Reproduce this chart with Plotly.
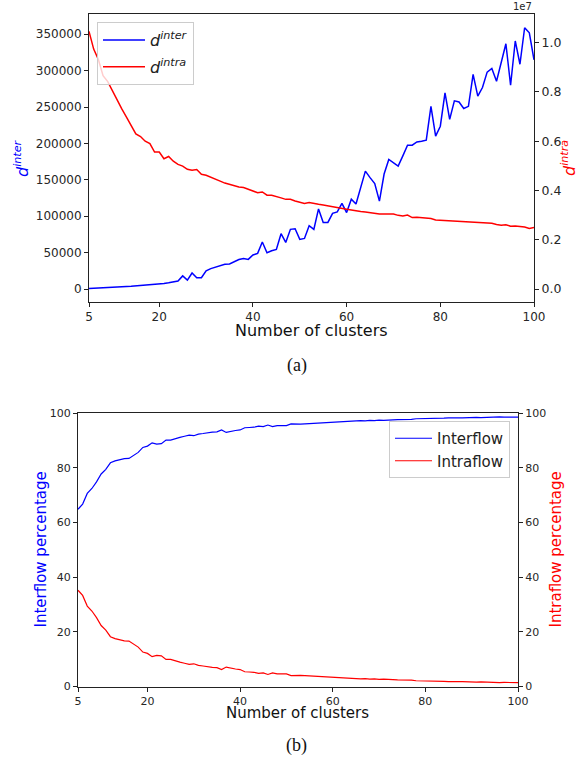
import plotly.graph_objects as go

W, H = 587, 762

# ---------------- data ----------------
clusters = list(range(5, 101))

d_inter = [800, 1000, 1300, 1600, 1900, 2200, 2500, 2900, 3300, 3700,
           4100, 4600, 5100, 5600, 5900, 6800, 7500, 8500, 9800, 11000,
           18000, 12300, 22000, 15500, 15500, 25000, 28000, 30000, 32000, 34000,
           34500, 38000, 40500, 42000, 40700, 46700, 49000, 64500, 49900, 52500,
           54500, 76000, 64000, 82000, 82800, 68200, 69500, 87000, 82000, 110000,
           91500, 91500, 104000, 106000, 117600, 105000, 123500, 116700, 138000, 162000,
           153000, 145000, 120800, 158000, 178000, 174000, 169000, 183000, 197600, 197600,
           202000, 203000, 204500, 251000, 210000, 223700, 269400, 233000, 258500, 257000,
           248000, 251000, 295000, 265000, 276800, 298000, 303000, 285500, 312000, 337000,
           280000, 340800, 308800, 359000, 352000, 315000]

d_intra_e6 = [10.46, 9.74, 9.32, 8.66, 8.42, 8.03, 7.65, 7.31, 6.98, 6.64,
              6.30, 6.19, 6.00, 5.90, 5.56, 5.56, 5.29, 5.38, 5.19, 5.06,
              4.99, 4.86, 4.82, 4.85, 4.66, 4.62, 4.55, 4.45, 4.38, 4.30,
              4.24, 4.18, 4.14, 4.12, 4.05, 4.00, 3.91, 3.94, 3.81, 3.81,
              3.74, 3.70, 3.64, 3.64, 3.57, 3.51, 3.47, 3.51, 3.46, 3.44,
              3.41, 3.37, 3.33, 3.29, 3.27, 3.24, 3.21, 3.17, 3.15, 3.13,
              3.10, 3.06, 3.05, 3.04, 3.04, 3.04, 2.99, 2.96, 3.00, 2.90,
              2.91, 2.89, 2.86, 2.86, 2.80, 2.79, 2.79, 2.78, 2.76, 2.76,
              2.74, 2.72, 2.70, 2.69, 2.68, 2.67, 2.67, 2.62, 2.59, 2.61,
              2.55, 2.56, 2.54, 2.52, 2.46, 2.50]
d_intra = [v * 1e6 for v in d_intra_e6]

interflow = [64.8, 66.7, 70.6, 72.4, 74.8, 77.7, 79.4, 81.8, 82.5, 83.0,
             83.3, 83.4, 84.6, 85.6, 87.4, 87.9, 89.1, 88.6, 88.8, 90.1,
             90.1, 90.7, 91.1, 91.5, 91.9, 91.7, 92.3, 92.5, 92.8, 93.0,
             93.1, 93.8, 92.9, 93.3, 93.6, 93.8, 94.6, 94.7, 94.8, 95.2,
             95.0, 95.6, 95.0, 95.4, 95.5, 95.4, 96.0, 95.9, 95.9, 96.0,
             96.1, 96.2, 96.4, 96.4, 96.6, 96.6, 96.8, 96.7, 96.9, 97.0,
             97.1, 97.2, 97.1, 97.3, 97.2, 97.4, 97.3, 97.5, 97.5, 97.6,
             97.6, 97.8, 97.7, 97.9, 97.9, 98.0, 98.1, 98.0, 98.1, 98.1,
             98.2, 98.1, 98.2, 98.2, 98.3, 98.3, 98.4, 98.3, 98.4, 98.5,
             98.4, 98.6, 98.5, 98.6, 98.5, 98.5]

intraflow = [35.2, 33.3, 29.4, 27.6, 25.2, 22.3, 20.6, 18.2, 17.5, 17.0,
             16.7, 16.6, 15.4, 14.4, 12.6, 12.1, 10.9, 11.4, 11.2, 9.9,
             9.9, 9.3, 8.9, 8.5, 8.1, 8.3, 7.7, 7.5, 7.2, 7.0,
             6.9, 6.2, 7.1, 6.7, 6.4, 6.2, 5.4, 5.3, 5.2, 4.8,
             5.0, 4.4, 5.0, 4.6, 4.5, 4.6, 4.0, 4.1, 4.1, 4.0,
             3.9, 3.8, 3.6, 3.6, 3.4, 3.4, 3.2, 3.3, 3.1, 3.0,
             2.9, 2.8, 2.9, 2.7, 2.8, 2.6, 2.7, 2.5, 2.5, 2.4,
             2.4, 2.2, 2.3, 2.1, 2.1, 2.0, 1.9, 2.0, 1.9, 1.9,
             1.8, 1.9, 1.8, 1.8, 1.7, 1.7, 1.6, 1.7, 1.6, 1.5,
             1.6, 1.4, 1.5, 1.4, 1.5, 1.4]

x_ticks = [5, 20, 40, 60, 80, 100]
left_a_ticks = [0, 50000, 100000, 150000, 200000, 250000, 300000, 350000]
right_a_ticks = [0, 2e6, 4e6, 6e6, 8e6, 1e7]
right_a_labels = ["0.0", "0.2", "0.4", "0.6", "0.8", "1.0"]
pct_ticks = [0, 20, 40, 60, 80, 100]

# ---------------- layout helpers (window pixels -> paper) ----------------
def px_x(p):
    return p / W

def px_y(p):
    return 1 - p / H

FONT = "DejaVu Sans"
TICKC = "#262626"
BLUE = "#0000ff"
RED = "#ff0000"

fig = go.Figure()

fig.add_trace(go.Scatter(x=clusters, y=d_inter, mode="lines", name="<i>d</i><sup><i>inter</i></sup>",
                         line=dict(color=BLUE, width=1.5), xaxis="x", yaxis="y",
                         legend="legend", legendgroup="a1"))
fig.add_trace(go.Scatter(x=clusters, y=d_intra, mode="lines", name="<i>d</i><sup><i>intra</i></sup>",
                         line=dict(color=RED, width=1.5), xaxis="x", yaxis="y2",
                         legend="legend", legendgroup="a2"))
fig.add_trace(go.Scatter(x=clusters, y=interflow, mode="lines", name="Interflow",
                         line=dict(color=BLUE, width=1.2), xaxis="x2", yaxis="y3",
                         legend="legend2"))
fig.add_trace(go.Scatter(x=clusters, y=intraflow, mode="lines", name="Intraflow",
                         line=dict(color=RED, width=1.2), xaxis="x2", yaxis="y4",
                         legend="legend2"))

axis_common = dict(showline=True, linecolor="#222", linewidth=1, ticks="outside", ticklen=4,
                   tickwidth=1, tickcolor="#222", showgrid=False, zeroline=False,
                   automargin=False)

dom_a_x = [px_x(89), px_x(534)]
dom_a_y = [px_y(301.7), px_y(14)]
dom_b_x = [px_x(78), px_x(518)]
dom_b_y = [px_y(686.5), px_y(413)]

fig.update_layout(
    width=W, height=H,
    margin=dict(l=0, r=0, t=0, b=0, autoexpand=False),
    paper_bgcolor="white", plot_bgcolor="white",
    font=dict(family=FONT, color=TICKC),
    xaxis=dict(domain=dom_a_x, anchor="y", range=[5, 100], tickvals=x_ticks,
               ticktext=[str(v) for v in x_ticks], mirror=True,
               tickfont=dict(size=12), **axis_common),
    yaxis=dict(domain=dom_a_y, anchor="x", range=[-17430, 377860], tickvals=left_a_ticks,
               ticktext=[str(v) for v in left_a_ticks], tickfont=dict(size=12), **axis_common),
    yaxis2=dict(overlaying="y", anchor="x", side="right", range=[-515600, 11165000],
                tickvals=right_a_ticks, ticktext=right_a_labels, tickfont=dict(size=12.5),
                **axis_common),
    xaxis2=dict(domain=dom_b_x, anchor="y3", range=[5, 100], tickvals=x_ticks,
                ticktext=[str(v) for v in x_ticks], mirror=True,
                tickfont=dict(size=11), **axis_common),
    yaxis3=dict(domain=dom_b_y, anchor="x2", range=[0, 100], tickvals=pct_ticks,
                ticktext=[str(v) for v in pct_ticks], tickfont=dict(size=11), **axis_common),
    yaxis4=dict(overlaying="y3", anchor="x2", side="right", range=[0, 100], tickvals=pct_ticks,
                ticktext=[str(v) for v in pct_ticks], tickfont=dict(size=11), **axis_common),
    legend=dict(x=px_x(97), y=px_y(22), xanchor="left", yanchor="top",
                bgcolor="rgba(255,255,255,0.8)", bordercolor="#cccccc", borderwidth=1,
                itemwidth=42, tracegroupgap=3,
                font=dict(size=16, family=FONT, color="#222")),
    legend2=dict(x=px_x(389), y=px_y(421), xanchor="left", yanchor="top",
                 bgcolor="rgba(255,255,255,0.8)", bordercolor="#cccccc", borderwidth=1,
                 itemwidth=37,
                 font=dict(size=15, family=FONT, color="#222")),
    showlegend=True,
)

def label(text, x, y, size, color, family=FONT, angle=0, xa="center", ya="middle"):
    return dict(text=text, x=px_x(x), y=px_y(y), xref="paper", yref="paper",
                xanchor=xa, yanchor=ya, showarrow=False, textangle=angle,
                font=dict(size=size, family=family, color=color))

annotations = [
    # (a)
    label("Number of clusters", 311, 330, 16, "#111"),
    label("<i>d</i><sup><i>inter</i></sup>", 21, 158, 16, BLUE, angle=-90),
    label("<i>d</i><sup><i>intra</i></sup>", 568, 158, 16, RED, angle=-90),
    label("1e7", 534, 14, 10, TICKC, xa="right", ya="bottom"),
    label("(a)", 297, 365, 18, "#111", family="Liberation Serif"),
    # (b)
    label("Number of clusters", 298, 713, 15, "#111"),
    label("Interflow percentage", 40, 549.5, 15, BLUE, angle=-90),
    label("Intraflow percentage", 555, 549.5, 15, RED, angle=-90),
    label("(b)", 297, 745, 18, "#111", family="Liberation Serif"),
]
fig.update_layout(annotations=annotations)

fig.write_html("out.html",
               config={"displayModeBar": False},
               post_script="document.body.style.margin='0';document.body.style.overflow='hidden';")
